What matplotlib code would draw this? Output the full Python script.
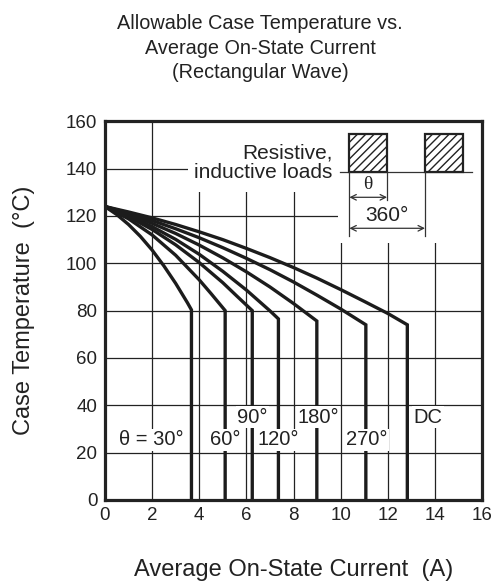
import matplotlib
matplotlib.use("Agg")
import matplotlib.pyplot as plt
from matplotlib.patches import Rectangle

plt.rcParams["font.family"] = ["Liberation Sans", "DejaVu Sans"]

# ── curve data: average current (A) vs case temperature (°C)
i_30 = [0, 0.5, 1, 1.5, 2, 2.5, 3, 3.5, 3.67, 3.67]
t_30 = [124, 120.6, 116.4, 111.4, 105.6, 98.9, 91.5, 83.3, 80.3, 0]

i_60 = [0, 1, 2, 3, 4, 4.5, 5.1, 5.1]
t_60 = [124, 118.8, 112, 103.4, 93, 87.2, 80, 0]

i_90 = [0, 1, 2, 3, 4, 5, 5.6, 6.25, 6.25]
t_90 = [124, 119.7, 114.3, 107.8, 100.3, 91.8, 86.1, 80, 0]

i_120 = [0, 1, 2, 3, 4, 5, 6, 7, 7.36, 7.36]
t_120 = [124, 120.2, 115.5, 110.1, 103.8, 96.6, 88.7, 79.9, 76.5, 0]

i_180 = [0, 1, 2, 3, 4, 5, 6, 7, 8, 8.99, 8.99]
t_180 = [124, 120.7, 116.9, 112.6, 107.7, 102.3, 96.4, 90, 83, 75.6, 0]

i_270 = [0, 1, 2, 3, 4, 5, 6, 7, 8, 9, 10, 11.07, 11.07]
t_270 = [124, 121.2, 118.1, 114.6, 110.8, 106.6, 102.1, 97.3, 92.1, 86.5, 80.7, 74, 0]

i_dc = [0, 1, 2, 3, 4, 5, 6, 7, 8, 9, 10, 11, 12, 12.83, 12.83]
t_dc = [124, 121.7, 119.2, 116.4, 113.3, 110, 106.3, 102.4, 98.2, 93.7, 88.9, 83.9, 78.8, 74, 0]

curve_labels = ["θ = 30°", "60°", "90°", "120°", "180°", "270°", "DC"]
label_x = [1.98, 5.1, 6.25, 7.36, 9.05, 11.1, 13.72]
label_y = [25.3, 25.3, 34.9, 25.3, 34.9, 25.3, 34.9]

x_ticks = [0, 2, 4, 6, 8, 10, 12, 14, 16]
y_ticks = [0, 20, 40, 60, 80, 100, 120, 140, 160]

# ── Plot ──────────────────────────────────────────────────────────────
fig = plt.figure(figsize=(5.03, 5.83), dpi=100)
ax = fig.add_axes([0.2087, 0.1427, 0.7496, 0.6491])

ax.set_xlim(0, 16)
ax.set_ylim(0, 160)
ax.set_xticks(x_ticks)
ax.set_yticks(y_ticks)
ax.tick_params(length=0, labelsize=13.5, pad=5.5, colors="#222222")
ax.set_axisbelow(True)
ax.grid(True, color="#222222", linewidth=0.9)
for sp in ax.spines.values():
    sp.set_linewidth(2.3)
    sp.set_color("#222222")
    sp.set_zorder(6)

for xs, ys in [(i_30, t_30), (i_60, t_60), (i_90, t_90), (i_120, t_120),
               (i_180, t_180), (i_270, t_270), (i_dc, t_dc)]:
    ax.plot(xs, ys, color="#1c1c1c", linewidth=2.4, zorder=3,
            solid_joinstyle="miter")

for txt, lx, ly in zip(curve_labels, label_x, label_y):
    ax.text(lx, ly, txt, fontsize=14.5, ha="center", va="center", zorder=5,
            color="#222222",
            bbox=dict(facecolor="white", edgecolor="none", pad=1.0))

# white areas hiding the grid behind the inset
ax.add_patch(Rectangle((3.52, 130), 6.45, 30, facecolor="white",
                       edgecolor="none", zorder=1))
ax.add_patch(Rectangle((9.89, 108.6), 6.11, 51.4, facecolor="white",
                       edgecolor="none", zorder=1))

ax.text(9.65, 146.6, "Resistive,", fontsize=15, ha="right", va="center",
        color="#222222", zorder=5)
ax.text(9.65, 138.3, "inductive loads", fontsize=15, ha="right", va="center",
        color="#222222", zorder=5)

# waveform inset
ax.plot([9.96, 15.57], [138.5, 138.5], color="#333333", linewidth=0.9, zorder=4)
for x0 in [10.37, 13.58]:
    ax.add_patch(Rectangle((x0, 138.5), 1.6, 16, facecolor="white",
                           edgecolor="#222222", linewidth=1.6, hatch="////",
                           zorder=4))
ax.plot([10.37, 10.37], [138.5, 111.5], color="#333333", linewidth=0.9, zorder=4)
ax.plot([11.97, 11.97], [138.5, 126.8], color="#333333", linewidth=0.9, zorder=4)
ax.plot([13.58, 13.58], [138.5, 111.5], color="#333333", linewidth=0.9, zorder=4)
ax.annotate("", xy=(10.37, 127.9), xytext=(11.97, 127.9),
            arrowprops=dict(arrowstyle="<->", color="#333333", lw=0.9,
                            shrinkA=0, shrinkB=0), zorder=4)
ax.annotate("", xy=(10.37, 114.8), xytext=(13.58, 114.8),
            arrowprops=dict(arrowstyle="<->", color="#333333", lw=0.9,
                            shrinkA=0, shrinkB=0), zorder=4)
ax.text(11.17, 133.3, "θ", fontsize=14, ha="center", va="center",
        family=["Liberation Serif", "DejaVu Serif"], color="#222222", zorder=5)
ax.text(11.96, 120.2, "360°", fontsize=15, ha="center", va="center",
        color="#222222", zorder=5)

ax.set_xlabel("Average On-State Current  (A)", fontsize=17, labelpad=25,
              color="#222222")
ax.set_ylabel("Case Temperature  (°C)", fontsize=17, labelpad=22,
              color="#222222")

fig.text(0.517, 0.917, "Allowable Case Temperature vs.\nAverage On-State Current\n(Rectangular Wave)",
         ha="center", va="center", fontsize=14.3, linespacing=1.36,
         color="#222222")

plt.savefig("out.png", dpi=100)
plt.close(fig)
